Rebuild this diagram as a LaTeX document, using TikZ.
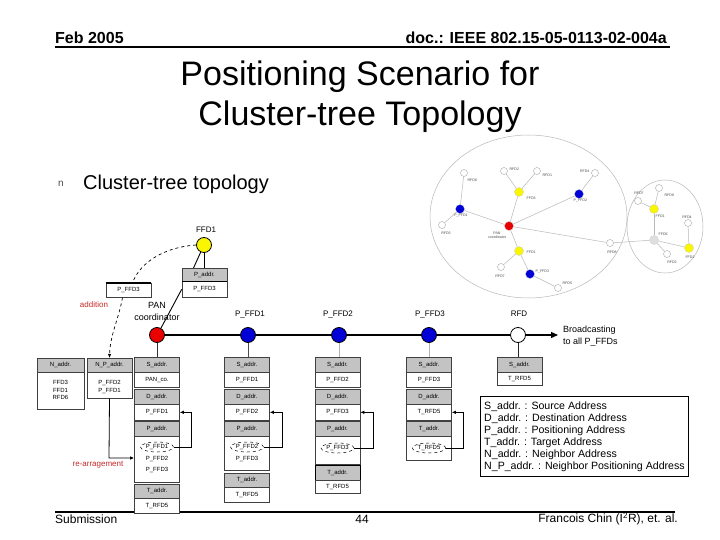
\documentclass[tikz,border=0pt]{standalone}
\usepackage{fontspec}
\setmainfont{Liberation Sans}
\usetikzlibrary{arrows.meta,shapes.geometric}
\definecolor{hdrgray}{RGB}{195,195,195}
\definecolor{nblue}{RGB}{0,0,215}
\definecolor{nred}{RGB}{235,0,0}
\definecolor{nyellow}{RGB}{250,245,0}
\definecolor{lblred}{RGB}{200,40,40}
\tikzset{
 hdr/.style={draw=black!75, fill=hdrgray, minimum width=45pt, inner sep=0pt, anchor=north, font=\fontsize{6}{7}\selectfont, line width=0.6pt},
 bod/.style={draw=black!75, fill=white, minimum width=45pt, inner sep=0pt, anchor=north, font=\fontsize{6}{7}\selectfont, line width=0.6pt},
 tt/.style={font=\fontsize{6}{7}\selectfont, inner sep=0pt},
 dsel/.style={draw, dashed, ellipse, inner sep=0.5pt, font=\fontsize{6}{7}\selectfont, minimum width=27pt, minimum height=10pt, line width=0.5pt},
 bignode/.style={circle, draw=black, line width=0.8pt, minimum size=15pt, inner sep=0pt},
 lbl/.style={font=\fontsize{8}{9.5}\selectfont, inner sep=0pt},
 sm/.style={circle, draw=gray!70, fill=white, minimum size=7pt, inner sep=0pt, line width=0.4pt},
 smf/.style={circle, draw=gray!40, minimum size=9pt, inner sep=0pt, line width=0.3pt},
 tl/.style={font=\fontsize{3.6}{4}\selectfont, text=gray!60!black, inner sep=0.4pt},
 clink/.style={draw=gray!55, line width=0.5pt},
 conn/.style={line width=0.9pt},
 redlbl/.style={font=\fontsize{8}{9.5}\selectfont, text=lblred, inner sep=0pt},
}
\begin{document}
\begin{tikzpicture}[x=1pt,y=-1pt]
\useasboundingbox (0,0) rectangle (720,540);
\fill[white] (0,0) rectangle (720,540);

% header
\node[anchor=west, font=\bfseries\fontsize{16}{18}\selectfont, inner sep=0] (date) at (55,38) {Feb 2005};
\node[anchor=east, font=\bfseries\fontsize{16}{18}\selectfont, inner sep=0] (doc) at (667,38) {doc.: IEEE 802.15-05-0113-02-004a};
\draw[line width=2pt] (55,47) -- (670,47);

% title
\node[font=\fontsize{34}{40}\selectfont, align=center, inner sep=0] (title) at (360,97) {Positioning Scenario for\\Cluster-tree Topology};

% bullet
\node[font=\fontsize{10}{12}\selectfont, text=gray!60!black, inner sep=0] (bul) at (61,184) {n};
\node[anchor=west, font=\fontsize{20}{24}\selectfont, inner sep=0] (bt) at (83,184) {Cluster-tree topology};

% footer
\draw[line width=2.5pt] (55,512) -- (675,512);
\node[anchor=west, font=\fontsize{12}{14}\selectfont, inner sep=0] (sub) at (55,519) {Submission};
\node[font=\fontsize{12}{14}\selectfont, inner sep=0] (pg) at (362,519) {44};
\node[anchor=east, font=\fontsize{12}{14}\selectfont, inner sep=0] (auth) at (678,519) {Francois Chin (I\textsuperscript{2}R), et. al.};

% ---------- cluster picture (top right)
\draw[gray!55, line width=0.5pt] (528.5,216.5) ellipse [x radius=98.5, y radius=81.5];
\draw[gray!55, line width=0.5pt] (665,226.5) ellipse [x radius=38, y radius=46.5];
\node[smf, fill=nred] (cP) at (509,226) {};
\node[smf, fill=nyellow] (cY1) at (519,192) {};
\node[sm] (cR1) at (504,171) {};
\node[sm] (cR2) at (537,171) {};
\node[smf, fill=nblue] (cB1) at (579,194) {};
\node[sm] (cR3) at (595,173) {};
\node[smf, fill=nblue] (cB2) at (460,209) {};
\node[sm] (cR4) at (464,173) {};
\node[sm] (cR5) at (442,225) {};
\node[smf, fill=nyellow] (cY2) at (519,251) {};
\node[sm] (cR6) at (501,267) {};
\node[smf, fill=nblue] (cB3) at (530,274) {};
\node[sm] (cR7) at (558,288) {};
\node[sm] (cR8) at (610,243) {};
\node[smf, fill=gray!25] (cG) at (654,240) {};
\node[smf, fill=nyellow] (cY3) at (654,209) {};
\node[sm] (cR9) at (638,201) {};
\node[sm] (cR10) at (659,188) {};
\node[sm] (cR11) at (688,223) {};
\node[smf, fill=nyellow] (cY4) at (689,248) {};
\node[sm] (cR12) at (667,254) {};
\foreach \a/\b in {cP/cY1,cY1/cR1,cY1/cR2,cP/cB1,cB1/cR3,cP/cB2,cB2/cR4,cB2/cR5,cP/cY2,cY2/cR6,cY2/cB3,cB3/cR7,cP/cR8,cR8/cG,cG/cY4,cG/cY3,cY3/cR9,cY3/cR10,cG/cR12,cY4/cR11}
  \draw[clink] (\a) -- (\b);
\node[tl, align=center] (tlP) at (497,235) {PAN\\coordinator};
\node[tl, anchor=west] (tl1) at (526,198) {FFD3};
\node[tl, anchor=west] (tl2) at (509,169) {RFD2};
\node[tl, anchor=west] (tl3) at (542,175) {RFD1};
\node[tl, anchor=west] (tl4) at (573,201) {P\_FFD2};
\node[tl, anchor=east] (tl5) at (590,171) {RFD4};
\node[tl] (tl6) at (461,216) {P\_FFD1};
\node[tl, anchor=west] (tl7) at (467,180) {RFD6};
\node[tl] (tl8) at (446,233) {RFD3};
\node[tl, anchor=west] (tl9) at (526,252) {FFD1};
\node[tl] (tl10) at (500,276) {RFD7};
\node[tl, anchor=west] (tl11) at (535,272) {P\_FFD3};
\node[tl, anchor=west] (tl12) at (562,283) {RFD5};
\node[tl] (tl13) at (612,252) {RFD8};
\node[tl, anchor=west] (tl14) at (658,234) {FFD6};
\node[tl, anchor=west] (tl15) at (655,216) {FFD1};
\node[tl] (tl16) at (639,193) {RFD7};
\node[tl, anchor=west] (tl17) at (664,195) {RFD8};
\node[tl] (tl18) at (687,217) {RFD4};
\node[tl] (tl19) at (690,257) {FFD2};
\node[tl] (tl20) at (672,262) {RFD2};

% ---------- main chain
\node[bignode, fill=nyellow] (ffd1) at (204,245) {};
\node[lbl] (ffd1l) at (206,230) {FFD1};
\node[hdr, minimum height=13pt] (tph) at (204.5,268) {P\_addr.};
\node[bod, minimum height=16pt] (tpb) at (204.5,281) {P\_FFD3};
\draw[line width=1.2pt] (tph.south west) -- (tph.south east);
\node[bod, minimum height=14pt] (lp) at (128.5,283) {P\_FFD3};
\draw[line width=1.2pt] (lp.north west) -- (lp.north east);

\node[bignode, fill=nred] (pan) at (157,335) {};
\node[bignode, fill=nblue] (pf1) at (248,335) {};
\node[bignode, fill=nblue] (pf2) at (339,335) {};
\node[bignode, fill=nblue] (pf3) at (429,335) {};
\node[bignode, fill=white] (rfd) at (518,335) {};
\coordinate (tip) at (558,335);
\node[font=\fontsize{9}{12}\selectfont, align=center, inner sep=0] (panl) at (157,311) {PAN\\coordinator};
\node[lbl] (pf1l) at (250,315) {P\_FFD1};
\node[lbl] (pf2l) at (338,315) {P\_FFD2};
\node[lbl] (pf3l) at (430,315) {P\_FFD3};
\node[lbl] (rfdl) at (519,314) {RFD};
\node[anchor=west, align=left, font=\fontsize{9}{12}\selectfont, inner sep=0] (bc) at (563,336) {Broadcasting\\to all P\_FFDs};

\draw[line width=1.3pt] (pan) -- (pf1);
\draw[line width=1.3pt] (pf1) -- (pf2);
\draw[line width=1.3pt] (pf2) -- (pf3);
\draw[line width=1.3pt] (pf3) -- (rfd);
\draw[line width=1.3pt, -{Triangle[length=7pt,width=6pt]}] (rfd) -- (tip);

\draw[conn] (ffd1.south) -- (ffd1.south |- tph.north);
\draw[conn] (ffd1.245) -- ([xshift=-11pt]tph.north);
\draw[conn] (tpb.west) -- (pan.60);
\draw[dashed, line width=0.7pt] (ffd1.west) .. controls (165,247) and (140,262) .. ([xshift=4pt]lp.north);

% ---------- tables
% column 1
\node[hdr, minimum height=15pt] (c1sh) at (157,357) {S\_addr.};
\node[bod, minimum height=15pt] (c1sb) at (157,372) {PAN\_co.};
\node[hdr, minimum height=15pt] (c1dh) at (157,389) {D\_addr.};
\node[bod, minimum height=16pt] (c1db) at (157,404) {P\_FFD1};
\node[hdr, minimum height=15pt] (c1ph) at (157,421) {P\_addr.};
\node[bod, minimum height=46pt] (c1pb) at (157,436) {};
\node[dsel] (c1e) at (157,447) {P\_FFD1};
\node[tt] (c1p2) at (157,459) {P\_FFD2};
\node[tt] (c1p3) at (157,470) {P\_FFD3};
\node[hdr, minimum height=14pt] (c1th) at (157,484) {T\_addr.};
\node[bod, minimum height=15pt] (c1tb) at (157,498) {T\_RFD5};
% column 2
\node[hdr, minimum height=15pt] (c2sh) at (247,357) {S\_addr.};
\node[bod, minimum height=15pt] (c2sb) at (247,372) {P\_FFD1};
\node[hdr, minimum height=15pt] (c2dh) at (247,389) {D\_addr.};
\node[bod, minimum height=16pt] (c2db) at (247,404) {P\_FFD2};
\node[hdr, minimum height=15pt] (c2ph) at (247,421) {P\_addr.};
\node[bod, minimum height=34pt] (c2pb) at (247,436) {};
\node[dsel] (c2e) at (247,447) {P\_FFD2};
\node[tt] (c2p2) at (247,459) {P\_FFD3};
\node[hdr, minimum height=14pt] (c2th) at (247,473) {T\_addr.};
\node[bod, minimum height=15pt] (c2tb) at (247,487) {T\_RFD5};
% column 3
\node[hdr, minimum height=15pt] (c3sh) at (337.5,357) {S\_addr.};
\node[bod, minimum height=15pt] (c3sb) at (337.5,372) {P\_FFD2};
\node[hdr, minimum height=15pt] (c3dh) at (337.5,389) {D\_addr.};
\node[bod, minimum height=16pt] (c3db) at (337.5,404) {P\_FFD3};
\node[hdr, minimum height=15pt] (c3ph) at (337.5,421) {P\_addr.};
\node[bod, minimum height=28pt] (c3pb) at (337.5,436) {};
\node[dsel] (c3e) at (337.5,448) {P\_FFD3};
\node[hdr, minimum height=15pt, draw=black] (c3th) at (337.5,465) {T\_addr.};
\node[bod, minimum height=13pt] (c3tb) at (337.5,480) {T\_RFD5};
% column 4
\node[hdr, minimum height=15pt] (c4sh) at (429,357) {S\_addr.};
\node[bod, minimum height=15pt] (c4sb) at (429,372) {P\_FFD3};
\node[hdr, minimum height=15pt] (c4dh) at (429,389) {D\_addr.};
\node[bod, minimum height=16pt] (c4db) at (429,404) {T\_RFD5};
\node[hdr, minimum height=15pt] (c4th) at (429,421) {T\_addr.};
\node[bod, minimum height=24pt] (c4tb) at (429,436) {};
\node[dsel] (c4e) at (429,448) {T\_RFD5};
% column 5
\node[hdr, minimum height=15pt] (c5sh) at (519.5,357) {S\_addr.};
\node[bod, minimum height=13pt] (c5sb) at (519.5,372) {T\_RFD5};

% vertical links
\draw[conn, black!80] (pan) -- (pan |- c1sh.north);
\draw[conn, black!70] (pf1) -- (pf1 |- c2sh.north);
\draw[conn, gray!60] (pf2) -- (pf2 |- c3sh.north);
\draw[conn, gray!60] (pf3) -- (pf3 |- c4sh.north);
\draw[conn, black!85] (rfd) -- (rfd |- c5sh.north);

% feedback arrows
\tikzset{fb/.style={line width=0.7pt, -{Latex[length=4pt,width=3.5pt]}}}
\draw[fb] (c1e.east) -- (191,447) |- (c1db.east);
\draw[fb] (c2e.east) -- (282,447) |- (c2db.east);
\draw[fb] (c3e.east) -- (373,448) |- (c3db.east);
\draw[fb] (c4e.east) -- (463,448) |- (c4db.east);

% left tables
\node[hdr, minimum width=47pt, minimum height=14pt] (nh) at (60.5,358) {N\_addr.};
\node[bod, minimum width=47pt, minimum height=37pt] (nb) at (60.5,372) {};
\node[tt, align=center, font=\fontsize{6}{7.2}\selectfont] (nbt) at (60.5,390) {FFD3\\FFD1\\RFD6};
\node[hdr, minimum height=14pt] (nph) at (109.5,358) {N\_P\_addr.};
\node[bod, minimum height=26pt] (npb) at (109.5,372) {};
\node[tt, align=center, font=\fontsize{6}{7.5}\selectfont] (npbt) at (109.5,387) {P\_FFD2\\P\_FFD1};

\draw[dashed, line width=0.7pt, -{Latex[length=4pt,width=3.5pt]}] ([xshift=-6pt]lp.south) .. controls (119,318) and (110,335) .. (nph.north);
\node[redlbl] (add) at (94,305) {addition};

\coordinate (rk) at (109,458);
\draw[line width=0.8pt, -{Latex[length=4pt,width=3.5pt]}] (npb.south) -- (rk) -- (rk -| c1pb.west);
\node[redlbl] (rearr) at (98,465) {re-arragement};

% legend
\node[draw, line width=0.9pt, minimum width=208pt, minimum height=80pt, anchor=north west, inner sep=0] (legend) at (480,396) {};
\node[anchor=north west, align=left, font=\fontsize{10.6}{12}\selectfont, inner sep=0] (legtxt) at (484,401.5) {S\_addr. : Source Address\\D\_addr. : Destination Address\\P\_addr. : Positioning Address\\T\_addr. : Target Address\\N\_addr. : Neighbor Address\\N\_P\_addr. : Neighbor Positioning Address};
\end{tikzpicture}
\end{document}
